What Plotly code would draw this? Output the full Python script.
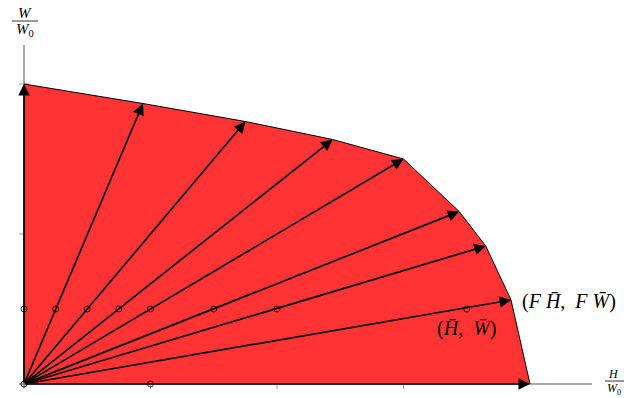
import plotly.graph_objects as go

# Data (axis units)
H_bar = [0.0, 0.25, 0.5, 0.75, 1.0, 1.5, 2.0, 3.5, 1.0]
W_bar = [0.5, 0.5, 0.5, 0.5, 0.5, 0.5, 0.5, 0.5, 0.0]
H_front = [0.0, 0.94, 1.75, 2.44, 3.0, 3.44, 3.65, 3.85, 4.0]
W_front = [2.0, 1.87, 1.75, 1.63, 1.5, 1.15, 0.92, 0.56, 0.0]
x_ticks = [1, 2, 3]
y_ticks = [1, 2]

W, Hpx = 630, 398
ox, oy = 24, 384          # pixel of origin
sx, sy = 126.5, 150.0     # pixels per unit
xr = [-ox / sx, (W - ox) / sx]
yr = [-(Hpx - oy) / sy, oy / sy]

RED = "rgb(255,51,51)"
SERIF = "Liberation Serif, DejaVu Serif, serif"

fig = go.Figure()

# filled region
fig.add_trace(go.Scatter(x=[0.0] + H_front, y=[0.0] + W_front, fill="toself",
                         fillcolor=RED, mode="lines", line=dict(width=0),
                         hoverinfo="skip", showlegend=False))
# frontier edge
fig.add_trace(go.Scatter(x=H_front, y=W_front, mode="lines",
                         line=dict(color="black", width=1),
                         hoverinfo="skip", showlegend=False))
# small circles
fig.add_trace(go.Scatter(x=[0.0] + H_bar, y=[0.0] + W_bar, mode="markers",
                         marker=dict(symbol="circle-open", size=6, color="black",
                                     line=dict(width=0.8)),
                         hoverinfo="skip", showlegend=False))

shapes = []
# axis lines
shapes.append(dict(type="line", xref="x", yref="y", x0=-0.04, x1=(592 - ox) / sx, y0=0, y1=0,
                   line=dict(color="#555", width=1), layer="below"))
shapes.append(dict(type="line", xref="x", yref="y", x0=0, x1=0, y0=-0.03, y1=(oy - 45) / sy,
                   line=dict(color="#555", width=1), layer="below"))
for t in x_ticks:
    shapes.append(dict(type="line", xref="x", yref="y", x0=t, x1=t, y0=-5 / sy, y1=5 / sy,
                       line=dict(color="#999", width=1), layer="below"))
for t in y_ticks:
    shapes.append(dict(type="line", xref="x", yref="y", x0=-5 / sx, x1=5 / sx, y0=t, y1=t,
                       line=dict(color="#999", width=1), layer="below"))

# fraction bars for axis labels (paper coords = pixels / size)
shapes.append(dict(type="line", xref="paper", yref="paper", x0=12 / W, x1=38 / W,
                   y0=1 - 21 / Hpx, y1=1 - 21 / Hpx, line=dict(color="black", width=0.8)))
shapes.append(dict(type="line", xref="paper", yref="paper", x0=605 / W, x1=624 / W,
                   y0=1 - 381 / Hpx, y1=1 - 381 / Hpx, line=dict(color="black", width=0.8)))

annotations = []
# arrows from origin to the frontier
for hx, wy in zip(H_front, W_front):
    annotations.append(dict(x=hx, y=wy, ax=0, ay=0, xref="x", yref="y", axref="x", ayref="y",
                            text="", showarrow=True, arrowhead=2, arrowsize=1.35,
                            arrowwidth=1.7, arrowcolor="black", standoff=0))

def txt(s, px, py, size):
    annotations.append(dict(x=px / W, y=1 - py / Hpx, xref="paper", yref="paper",
                            text=s, showarrow=False, xanchor="center", yanchor="middle",
                            font=dict(family=SERIF, size=size, color="black")))

NB, EN = "\u00a0", "\u2002"
txt("(<i>F" + NB + "H\u0304</i>," + EN + "<i>F" + NB + "W\u0304</i>)", 569, 301, 20)
txt("(<i>H\u0304</i>," + EN + "<i>W\u0304</i>)", 466, 328, 20)
txt("<i>W</i>", 25, 13, 15)
txt("<i>W</i><sub>0</sub>", 25, 30, 15)
txt("<i>H</i>", 613, 374, 12)
txt("<i>W</i><sub>0</sub>", 614, 389, 12)

fig.update_layout(
    width=W, height=Hpx, margin=dict(l=0, r=0, t=0, b=0),
    paper_bgcolor="white", plot_bgcolor="white",
    xaxis=dict(range=xr, visible=False, fixedrange=True),
    yaxis=dict(range=yr, visible=False, fixedrange=True),
    shapes=shapes, annotations=annotations, showlegend=False,
)

fig.write_html("out.html", config={"displayModeBar": False},
               post_script="document.body.style.margin='0';document.body.style.overflow='hidden';")
